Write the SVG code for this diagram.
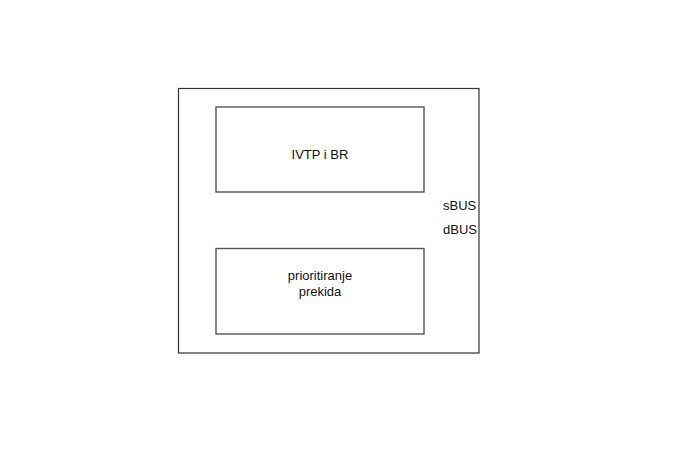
<svg xmlns="http://www.w3.org/2000/svg" width="680" height="470" viewBox="0 0 680 470">
<style>
.box{fill:none;stroke:#333;stroke-width:1.2}
.inner{fill:none;stroke:#555;stroke-width:1.4}
text{font-family:"Liberation Sans",Arial,sans-serif;font-size:13px;fill:#111}
</style>
<rect width="680" height="470" fill="#fff"/>
<g id="outer"><rect class="box" x="178.5" y="88.5" width="300.5" height="264.5"/></g>
<g id="ivtp"><rect class="inner" x="216" y="107" width="208" height="85"/><text x="320" y="159" text-anchor="middle">IVTP i BR</text></g>
<g id="prio"><rect class="inner" x="216" y="248.5" width="208" height="85.5"/><text x="320" y="280" text-anchor="middle">prioritiranje</text><text x="320" y="296" text-anchor="middle">prekida</text></g>
<g id="connectors"></g>
<g id="labels"><text x="443" y="210">sBUS</text><text x="443" y="234">dBUS</text></g>
</svg>
